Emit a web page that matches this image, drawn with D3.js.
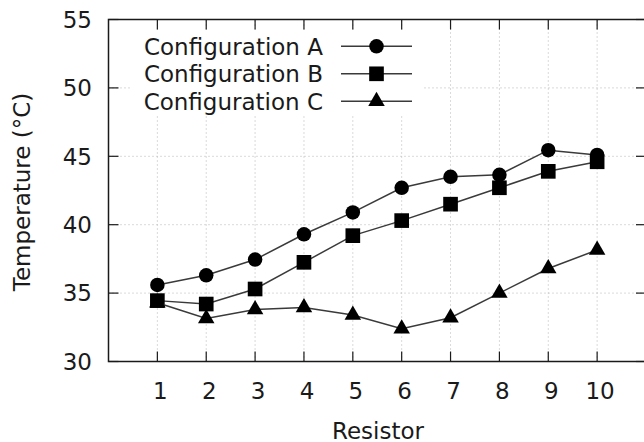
<!DOCTYPE html>
<html>
<head>
<meta charset="utf-8">
<script src="https://cdn.jsdelivr.net/npm/d3@7"></script>
<style>
  body { margin: 0; background: #fff; }
  text { font-family: "DejaVu Sans", sans-serif; fill: #1a1a1a; }
</style>
</head>
<body>
<svg width="644" height="442"></svg>
<script>
// data
const resistors = [1, 2, 3, 4, 5, 6, 7, 8, 9, 10]
const configA = [35.6, 36.3, 37.45, 39.3, 40.9, 42.7, 43.5, 43.65, 45.45, 45.1]
const configB = [34.45, 34.2, 35.3, 37.25, 39.2, 40.3, 41.5, 42.7, 43.9, 44.6]
const configC = [34.3, 33.15, 33.8, 33.95, 33.4, 32.4, 33.2, 35.0, 36.8, 38.15]
const seriesNames = ["Configuration A", "Configuration B", "Configuration C"]
const yTicks = [30, 35, 40, 45, 50, 55]

const series = [
    {name: seriesNames[0], values: configA, symbol: d3.symbolCircle, size: 165},
    {name: seriesNames[1], values: configB, symbol: d3.symbolSquare, size: 215},
    {name: seriesNames[2], values: configC, symbol: d3.symbolTriangle, size: 118}
]

// plot box
const plotLeft = 108.5, plotRight = 646, plotTop = 19.5, plotBottom = 361.5
const tickLen = 10
const fontSize = 23

const x = d3.scaleLinear().domain([0, 11]).range([plotLeft, plotRight])
const y = d3.scaleLinear().domain([30, 55]).range([plotBottom, plotTop])

const svg = d3.select("svg")

// dotted grid
const grid = svg.append("g")
    .attr("stroke", "#b4b4b4")
    .attr("stroke-width", 1)
    .attr("stroke-dasharray", "1,3")
resistors.forEach(r => {
    grid.append("line")
        .attr("x1", x(r)).attr("x2", x(r))
        .attr("y1", plotBottom).attr("y2", plotTop)
})
yTicks.slice(1, -1).forEach(t => {
    grid.append("line")
        .attr("x1", plotLeft).attr("x2", plotRight)
        .attr("y1", y(t)).attr("y2", y(t))
})

// opaque key background
svg.append("rect")
    .attr("x", 130).attr("y", 31)
    .attr("width", 292).attr("height", 84)
    .attr("fill", "#fff")

// ticks on all four sides
const ticks = svg.append("g").attr("stroke", "#1a1a1a").attr("stroke-width", 1.2)
resistors.forEach(r => {
    ticks.append("line").attr("x1", x(r)).attr("x2", x(r)).attr("y1", plotBottom).attr("y2", plotBottom - tickLen)
    ticks.append("line").attr("x1", x(r)).attr("x2", x(r)).attr("y1", plotTop).attr("y2", plotTop + tickLen)
})
yTicks.forEach(t => {
    ticks.append("line").attr("x1", plotLeft).attr("x2", plotLeft + tickLen).attr("y1", y(t)).attr("y2", y(t))
    ticks.append("line").attr("x1", plotRight).attr("x2", plotRight - tickLen).attr("y1", y(t)).attr("y2", y(t))
})

// border
svg.append("rect")
    .attr("x", plotLeft).attr("y", plotTop)
    .attr("width", plotRight - plotLeft).attr("height", plotBottom - plotTop)
    .attr("fill", "none")
    .attr("stroke", "#1a1a1a")
    .attr("stroke-width", 1.5)

// tick labels
svg.append("g").selectAll("text")
    .data(resistors)
    .join("text")
    .attr("x", d => x(d) + 3)
    .attr("y", 398.5)
    .attr("text-anchor", "middle")
    .attr("font-size", fontSize)
    .text(d => d)

svg.append("g").selectAll("text")
    .data(yTicks)
    .join("text")
    .attr("x", 92)
    .attr("y", d => y(d))
    .attr("dy", "0.36em")
    .attr("text-anchor", "end")
    .attr("font-size", fontSize)
    .text(d => d)

// axis titles
svg.append("text")
    .attr("x", 378)
    .attr("y", 438.5)
    .attr("text-anchor", "middle")
    .attr("font-size", fontSize)
    .text("Resistor")

svg.append("text")
    .attr("transform", "translate(29.5,192) rotate(-90)")
    .attr("text-anchor", "middle")
    .attr("font-size", fontSize)
    .text("Temperature (°C)")

// lines and markers
const line = d3.line()
    .x((d, i) => x(resistors[i]))
    .y(d => y(d))

series.forEach(s => {
    svg.append("path")
        .datum(s.values)
        .attr("d", line)
        .attr("fill", "none")
        .attr("stroke", "#3a3a3a")
        .attr("stroke-width", 1.5)

    svg.append("g").selectAll("path")
        .data(s.values)
        .join("path")
        .attr("transform", (d, i) => `translate(${x(resistors[i])},${y(d)})`)
        .attr("d", d3.symbol().type(s.symbol).size(s.size))
        .attr("fill", "#000")
})

// key
series.forEach((s, i) => {
    const ky = 46.3 + i * 27.5
    svg.append("text")
        .attr("x", 323)
        .attr("y", ky)
        .attr("dy", "0.37em")
        .attr("text-anchor", "end")
        .attr("font-size", fontSize)
        .text(s.name)
    svg.append("line")
        .attr("x1", 341).attr("x2", 412)
        .attr("y1", ky).attr("y2", ky)
        .attr("stroke", "#3a3a3a")
        .attr("stroke-width", 1.5)
    svg.append("path")
        .attr("transform", `translate(376.5,${ky})`)
        .attr("d", d3.symbol().type(s.symbol).size(s.size))
        .attr("fill", "#000")
})
</script>
</body>
</html>
